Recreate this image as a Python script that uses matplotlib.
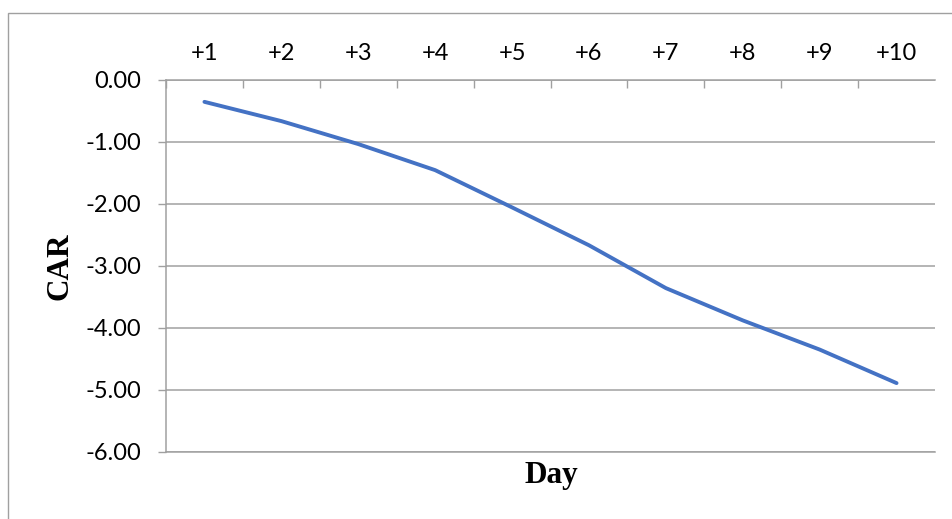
import matplotlib.pyplot as plt
from matplotlib.patches import Rectangle
from matplotlib.ticker import MultipleLocator, FixedLocator

# Cumulative abnormal return over the ten days after the event
days = ["+1", "+2", "+3", "+4", "+5", "+6", "+7", "+8", "+9", "+10"]
car = [-0.36, -0.67, -1.04, -1.46, -2.06, -2.67, -3.36, -3.88, -4.35, -4.89]

W, H = 952, 519
fig = plt.figure(figsize=(W / 100, H / 100), dpi=100)
ax = fig.add_axes([166 / W, 1 - 452 / H, (935 - 166) / W, (452 - 79.5) / H])

grey = "#a0a0a0"
x = range(1, len(days) + 1)
ax.plot(x, car, color="#4472C4", linewidth=2.8, solid_capstyle="round",
        solid_joinstyle="round")

ax.set_xlim(0.5, len(days) + 0.5)
ax.set_ylim(-6, 0)

# category axis sits on top, tick marks between categories
ax.xaxis.tick_top()
ax.set_xticks(list(x))
ax.set_xticklabels(days)
ax.xaxis.set_minor_locator(FixedLocator([i + 0.5 for i in range(len(days))]))
ax.tick_params(axis="x", which="major", length=0, pad=11, labelsize=17)
ax.tick_params(axis="x", which="minor", direction="in", length=6, color=grey, width=1)

ax.yaxis.set_major_locator(MultipleLocator(1))
ax.set_yticklabels([f"{v:.2f}" for v in ax.get_yticks()])
ax.tick_params(axis="y", length=6, color=grey, width=1, pad=12, labelsize=17)
ax.grid(axis="y", color=grey, linewidth=1.1)

ax.spines["right"].set_visible(False)
for side in ["top", "left", "bottom"]:
    ax.spines[side].set_color(grey)
    ax.spines[side].set_linewidth(1.1)

for lbl in ax.get_xticklabels() + ax.get_yticklabels():
    lbl.set_fontfamily("Lato")

fig.text(551 / W, 1 - 476 / H, "Day", ha="center", va="center",
         family="Liberation Serif", fontweight="bold", fontsize=22.5)
fig.text(60 / W, 1 - 266 / H, "CAR", ha="center", va="center", rotation=90,
         family="Liberation Serif", fontweight="bold", fontsize=22.5)

# chart frame, running off the right and bottom edges
fig.patches.append(Rectangle((8 / W, -0.1), 1.1, 1 - 13 / H + 0.1,
                             transform=fig.transFigure, fill=False,
                             edgecolor=grey, linewidth=1))

fig.savefig("out.png", dpi=100)
